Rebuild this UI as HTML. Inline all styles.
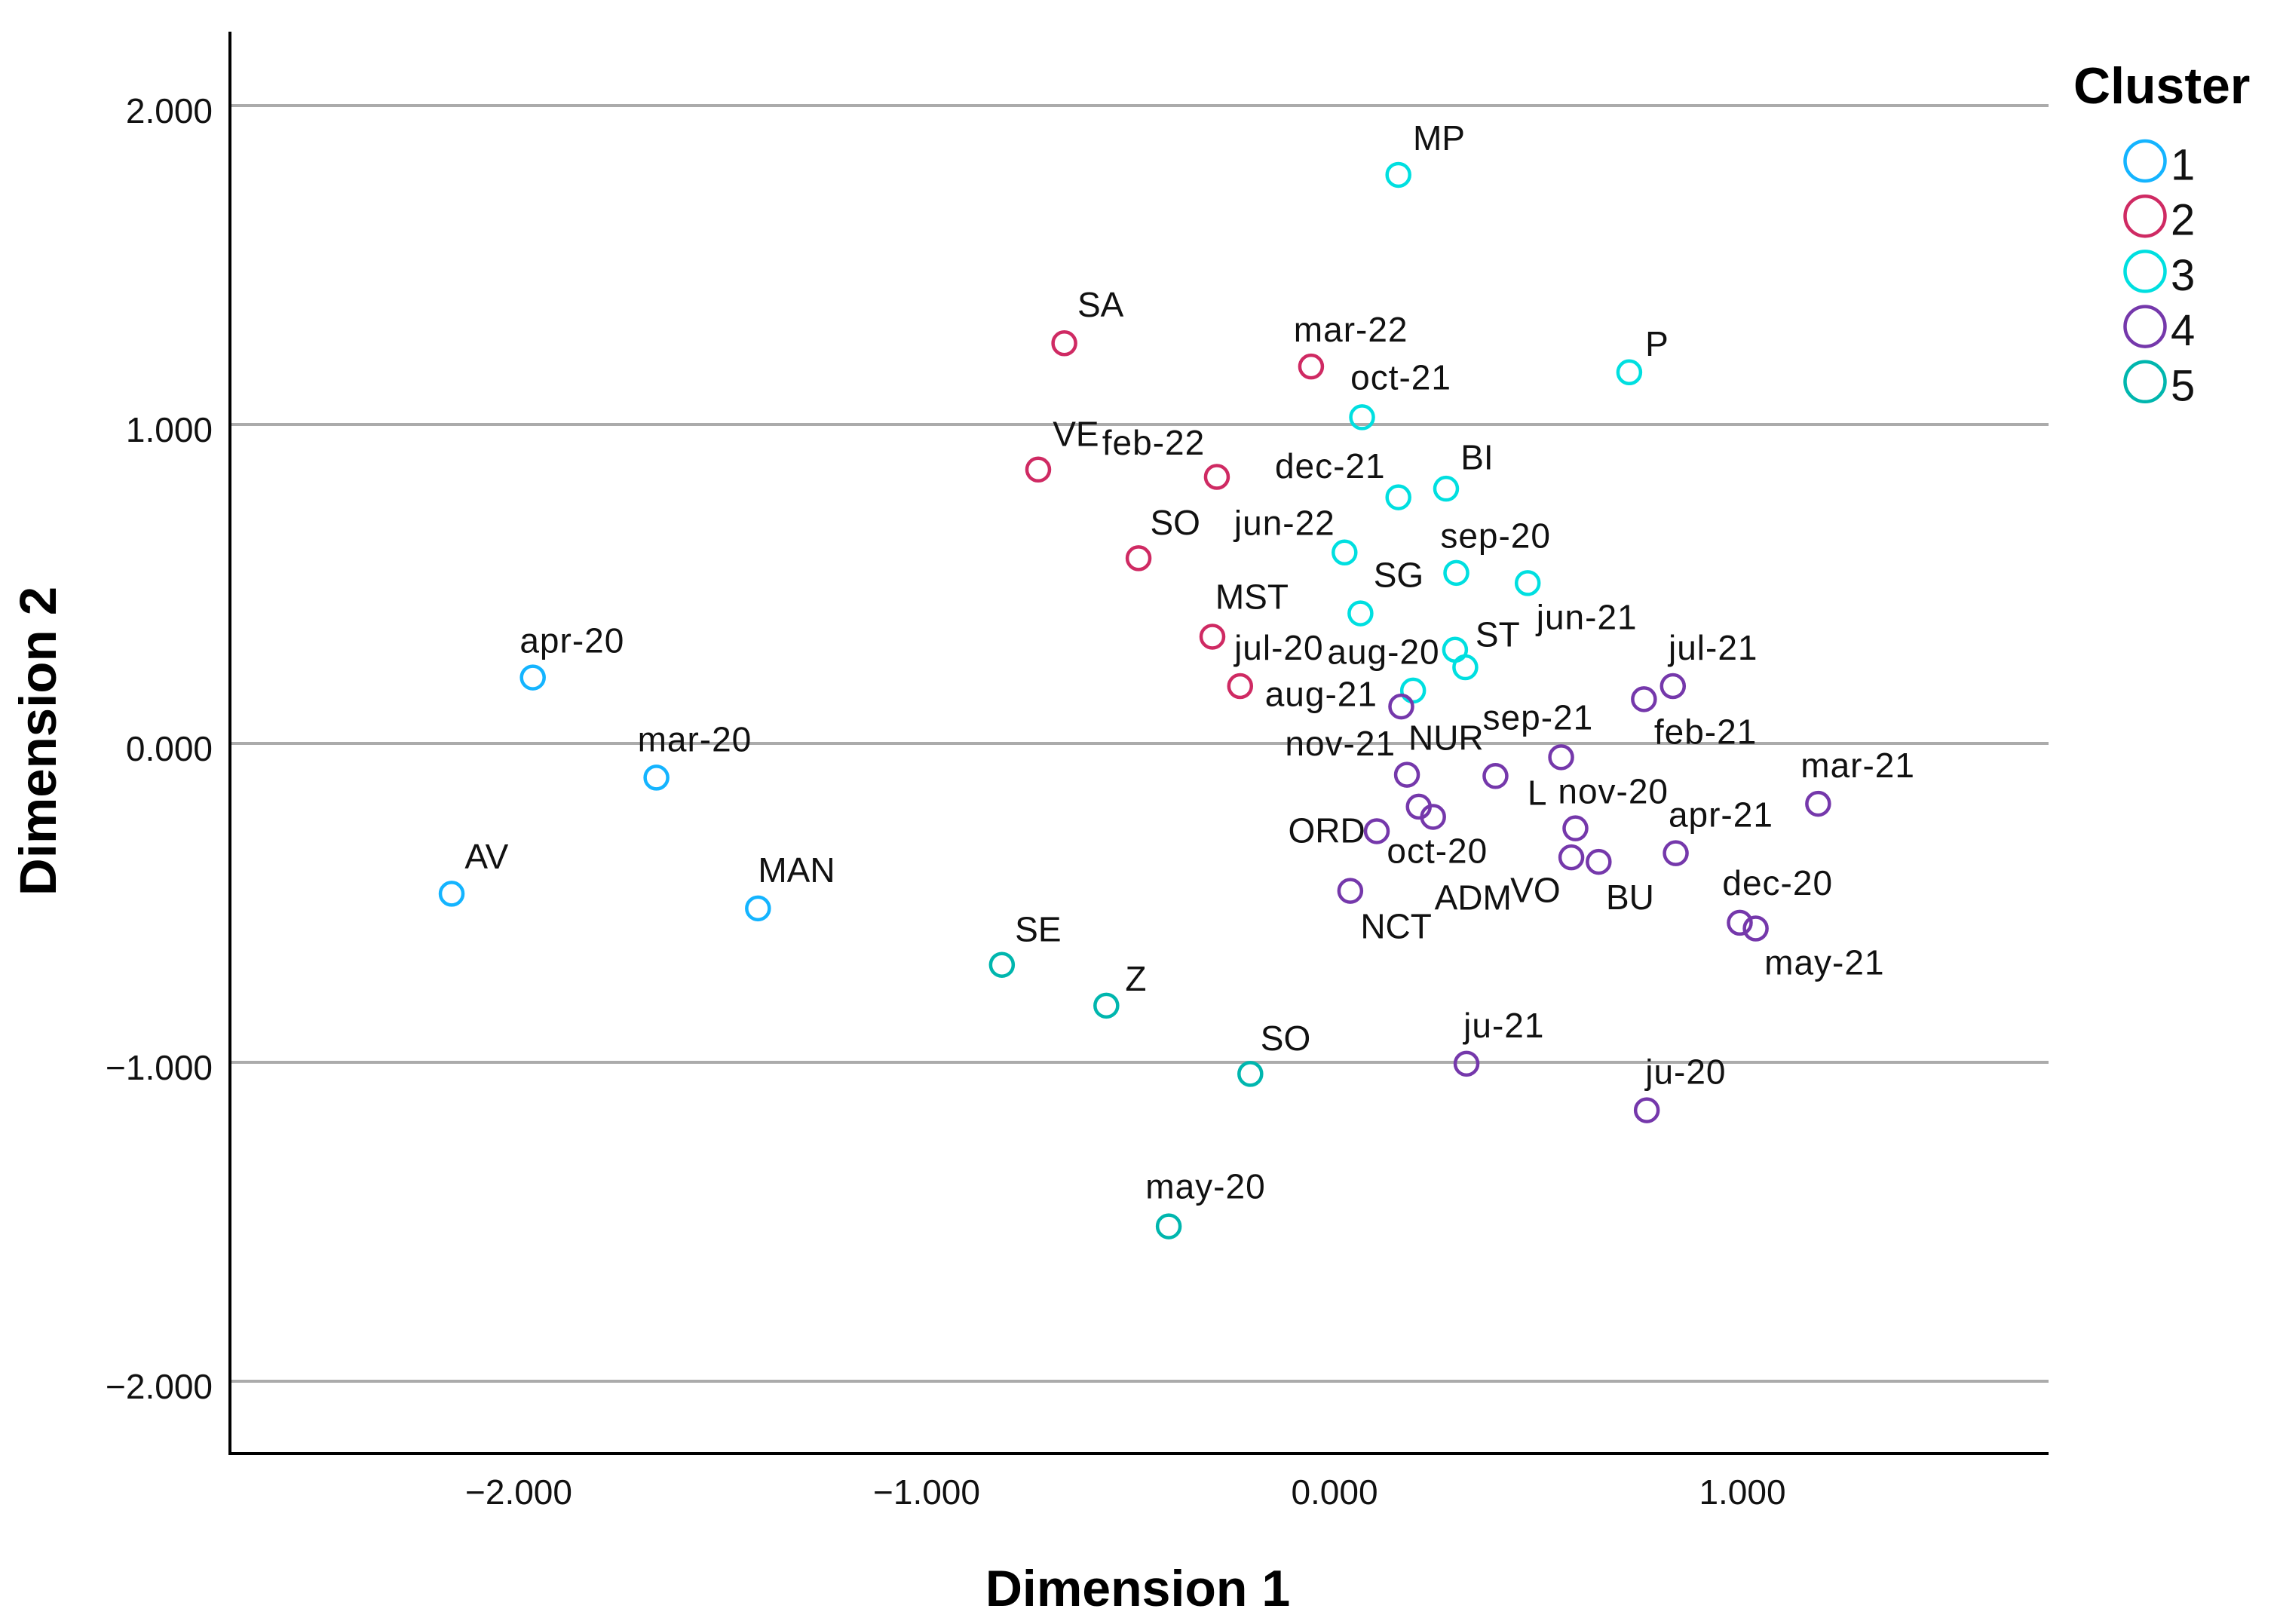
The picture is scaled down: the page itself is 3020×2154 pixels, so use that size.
<!DOCTYPE html>
<html lang="en">
<head>
<meta charset="utf-8">
<title>Cluster scatter plot</title>
<style>
html,body{margin:0;padding:0;background:#fff;width:3020px;height:2154px;overflow:hidden}
svg{display:block}
text{font-family:"Liberation Sans",sans-serif;fill:#111}
</style>
</head>
<body>
<svg id="chart" xmlns="http://www.w3.org/2000/svg" width="3020" height="2154" viewBox="0 0 3020 2154">
<g id="grid"></g>
<g id="axes"></g>
<g id="points"></g>
<g id="labels"></g>
<g id="legend"></g>
</svg>
<script>
const xTicks = [-2, -1, 0, 1];
const yTicks = [2, 1, 0, -1, -2];
const clusterIds = ['1', '2', '3', '4', '5'];

const c1Labels = ['apr-20', 'mar-20', 'AV', 'MAN'];
const c1X = [-1.971, -1.668, -2.170, -1.419];
const c1Y = [0.209, -0.105, -0.469, -0.515];

const c2Labels = ['SA', 'mar-22', 'VE', 'feb-22', 'SO', 'MST', 'jul-20'];
const c2X = [-0.668, -0.063, -0.732, -0.294, -0.486, -0.305, -0.237];
const c2Y = [1.257, 1.184, 0.861, 0.838, 0.583, 0.337, 0.182];

const c3Labels = ['MP', 'P', 'oct-21', 'BI', 'dec-21', 'jun-22', 'sep-20', 'jun-21', 'SG', 'aug-20', 'ST', 'aug-21'];
const c3X = [0.151, 0.717, 0.062, 0.268, 0.151, 0.019, 0.293, 0.468, 0.058, 0.290, 0.315, 0.187];
const c3Y = [1.785, 1.166, 1.025, 0.801, 0.774, 0.601, 0.537, 0.505, 0.410, 0.296, 0.241, 0.168];

const c4Labels = ['nov-21', 'jul-21', 'feb-21', 'sep-21', 'NUR', 'L', 'oct-20', 'ADM', 'mar-21', 'ORD', 'nov-20', 'VO', 'BU', 'apr-21', 'NCT', 'dec-20', 'may-21', 'ju-21', 'ju-20'];
const c4X = [0.158, 0.824, 0.753, 0.550, 0.172, 0.389, 0.201, 0.236, 1.180, 0.098, 0.585, 0.575, 0.642, 0.831, 0.033, 0.988, 1.027, 0.318, 0.760];
const c4Y = [0.118, 0.182, 0.141, -0.041, -0.096, -0.100, -0.196, -0.228, -0.187, -0.273, -0.264, -0.355, -0.369, -0.342, -0.460, -0.560, -0.578, -1.002, -1.148];

const c5Labels = ['SE', 'Z', 'SO', 'may-20'];
const c5X = [-0.821, -0.565, -0.212, -0.412];
const c5Y = [-0.692, -0.820, -1.034, -1.512];

/* Layout (not data): where each label sits relative to its point */
const labelNudge = {
  '1': [[-9,-25],[-13,-26],[9,-25],[0,-26]],
  '2': [[9,-26],[-12,-25],[10,-24],[-79,-23],[8,-24],[2,-27],[-4,-26]],
  '3': [[10,-25],[11,-19],[-8,-27],[10,-21],[-85,-21],[-76,-20],[-11,-25],[6,24],[9,-26],[-88,2],[7,-22],[-102,3]],
  '4': [[-80,26],[-3,-26],[7,23],[-54,-27],[1,-25],[22,12],[-22,31],[1,56],[-12,-26],[-61,0],[-12,-25],[-42,23],[5,25],[-5,-26],[7,25],[-12,-27],[6,24],[-2,-26],[-1,-26]],
  '5': [[9,-24],[13,-18],[7,-24],[-16,-27]]
};

const NS = 'http://www.w3.org/2000/svg';
const PX = 541, PY = 423, X0 = 1773, Y0 = 986;
const LEFT = 305, RIGHT = 2717, TOP = 42, BOTTOM = 1928;
const UNIT = 1.926;
function sx(v){ return X0 + v * PX; }
function sy(v){ return Y0 - v * PY; }
function fmt(v){ return v.toFixed(3).replace('-', '\u2212'); }
function make(tag, attrs, parent, text){
  const el = document.createElementNS(NS, tag);
  for (const k in attrs) el.setAttribute(k, attrs[k]);
  if (text !== undefined) el.textContent = text;
  parent.appendChild(el);
  return el;
}
const grid = document.getElementById('grid');
const axes = document.getElementById('axes');
const points = document.getElementById('points');
const labels = document.getElementById('labels');
const legend = document.getElementById('legend');

yTicks.forEach(function(t){
  const line = make('line', {x1: LEFT, x2: RIGHT, y1: sy(t), y2: sy(t), stroke: '#ababab', 'stroke-width': 4}, grid);
  
  
  const lab = make('text', {x: 282, y: sy(t) + 23, 'text-anchor': 'end', 'font-size': 46}, axes, fmt(t));
  
  
});
xTicks.forEach(function(t){
  const lab = make('text', {x: sx(t) - 3, y: 1995, 'text-anchor': 'middle', 'font-size': 46}, axes, fmt(t));
  
  
});

const yAxis = make('line', {x1: LEFT, x2: LEFT, y1: TOP, y2: BOTTOM + 2, stroke: '#000', 'stroke-width': 4}, axes);


const xAxis = make('line', {x1: LEFT - 2, x2: RIGHT, y1: BOTTOM, y2: BOTTOM, stroke: '#000', 'stroke-width': 4}, axes);



const xTitle = make('text', {x: 1509, y: 2130, 'text-anchor': 'middle', 'font-size': 68, 'font-weight': 'bold', style: 'fill:#000'}, axes, 'Dimension 1');


const yTitle = make('text', {x: 0, y: 0, transform: 'translate(74,983) rotate(-90)', 'text-anchor': 'middle', 'font-size': 69, 'font-weight': 'bold', style: 'fill:#000'}, axes, 'Dimension 2');



const clusterColors = {'1': '#14b4ff', '2': '#cf2a63', '3': '#00dfe0', '4': '#7538ab', '5': '#00b6ae'};
const seriesList = [
  {id: '1', names: c1Labels, xs: c1X, ys: c1Y},
  {id: '2', names: c2Labels, xs: c2X, ys: c2Y},
  {id: '3', names: c3Labels, xs: c3X, ys: c3Y},
  {id: '4', names: c4Labels, xs: c4X, ys: c4Y},
  {id: '5', names: c5Labels, xs: c5X, ys: c5Y}
];
seriesList.forEach(function(s){
  s.names.forEach(function(name, i){
    const cx = sx(s.xs[i]);
    const cy = sy(s.ys[i]);
    const dot = make('circle', {cx: cx, cy: cy + 1, r: 15, fill: 'none', stroke: clusterColors[s.id], 'stroke-width': 4.5}, points);
    
    
    const nudge = labelNudge[s.id][i];
    const spacing = name === name.toUpperCase() ? 0 : 1;
    const lab = make('text', {x: cx + nudge[0] * UNIT, y: cy + nudge[1] * UNIT + 16, 'font-size': 46, 'letter-spacing': spacing}, labels, name);
    
    
  });
});

const legendTitle = make('text', {x: 2750, y: 137, 'font-size': 68, 'font-weight': 'bold', style: 'fill:#000'}, legend, 'Cluster');


clusterIds.forEach(function(id, i){
  const y = 213.5 + i * 73.2;
  const sw = make('circle', {cx: 2845, cy: y, r: 26.5, fill: 'none', stroke: clusterColors[id], 'stroke-width': 4.5}, legend);
  
  
  const lab = make('text', {x: 2879, y: y + 25, 'font-size': 58}, legend, id);
  
  
});
</script>
</body>
</html>
